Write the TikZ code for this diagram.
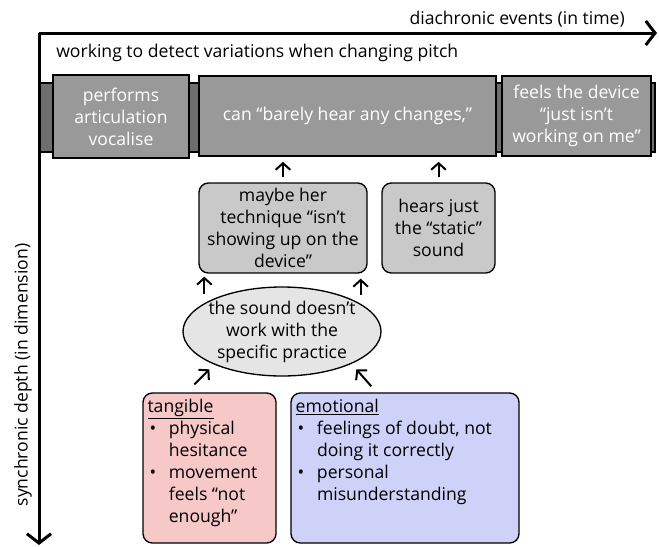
\documentclass[tikz,border=0pt]{standalone}
\usepackage{fontspec}
\setmainfont{Open Sans}
\usetikzlibrary{arrows.meta,shapes.geometric,calc}
\definecolor{bandgray}{HTML}{6E6E6E}
\definecolor{eventgray}{HTML}{999999}
\definecolor{causegray}{HTML}{C9C9C9}
\definecolor{soundgray}{HTML}{E5E5E5}
\definecolor{tangiblepink}{HTML}{F7C8C8}
\definecolor{emotionblue}{HTML}{CED1F8}
\newcommand{\bitem}[1]{\par\hangindent=16pt\hangafter=1\makebox[16pt][l]{\hspace{1.5pt}\textbullet}#1}
\tikzset{
	event/.style={draw=black,line width=1.2pt,fill=eventgray,text=white,align=center,inner sep=0pt},
	cause/.style={draw=black,line width=1pt,rounded corners=7pt,fill=causegray,align=center,inner sep=0pt},
	facet/.style={draw=black,line width=1pt,rounded corners=7pt,inner sep=0pt,minimum height=112.5pt},
	up/.style={line width=1.5pt,-{Straight Barb[length=5pt,width=11pt,line width=1.5pt]}},
	axis/.style={line width=2.25pt,-{Straight Barb[length=7pt,width=18pt,line width=2.25pt]}}
}
\begin{document}
\begin{tikzpicture}[x=0.75pt,y=0.75pt,yscale=-1,xscale=1,font=\fontsize{13.2}{16.5}\selectfont]
	\useasboundingbox (0,0) rectangle (659,546);
	% axes
	\coordinate (origin) at (39,33);
	\coordinate (timeend) at (657,33);
	\coordinate (depthend) at (39,545);
	\node [anchor=east,inner sep=0pt] (timelabel) at (625,19) {diachronic events (in time)};
	\node [rotate=90,inner sep=0pt] (depthlabel) at (23,375) {synchronic depth (in dimension)};
	\node [anchor=west,inner sep=0pt] (practice) at (56,53) {working to detect variations when changing pitch};
	% event band
	\draw [line width=1.2pt,fill=bandgray] (39,83) rectangle (655,152);
	\node [event,minimum width=102pt,minimum height=62.25pt] (perform) at (121,116.5) {performs\\articulation\\vocalise};
	\node [event,minimum width=222.75pt,minimum height=60pt] (cando) at (347.5,116) {can “barely hear any changes,”};
	\node [event,minimum width=111.75pt,minimum height=60pt] (feels) at (576.5,116) {feels the device\\“just isn’t\\working on me”};
	\draw [axis] (origin) -- (timeend);
	\draw [axis] (origin) -- (depthend);
	% causes
	\node [cause,minimum width=126pt,minimum height=67.5pt] (maybe) at (283,228) {maybe her\\technique “isn’t\\showing up on the\\device”};
	\node [cause,minimum width=84.75pt,minimum height=67.5pt] (hears) at (438.5,228) {hears just\\the “static”\\sound};
	\node [ellipse,draw=black,line width=1pt,fill=soundgray,align=center,inner xsep=-14pt,inner ysep=-8pt,minimum width=148.5pt,minimum height=66.75pt] (sound) at (282,331.5) {the sound doesn’t\\work with the\\specific practice};
	\node [facet,fill=tangiblepink,minimum width=99.75pt] (tangible) at (209.5,468) {\begin{minipage}[c][104pt][t]{93pt}\raggedright
		\underline{tangible}
		\bitem{physical\newline hesitance}
		\bitem{movement\newline feels “not\newline enough”}
	\end{minipage}};
	\node [facet,fill=emotionblue,minimum width=171pt] (emotional) at (405,468) {\begin{minipage}[c][104pt][t]{164pt}\raggedright
		\underline{emotional}
		\bitem{feelings of doubt, not\newline doing it correctly}
		\bitem{personal\newline misunderstanding}
	\end{minipage}};
	% arrows
	\draw [up,shorten <=3.75pt,shorten >=3.75pt] (maybe.north) -- (maybe.north |- cando.south);
	\draw [up,shorten <=3.75pt,shorten >=3.75pt] (hears.north) -- (hears.north |- cando.south);
	\draw [up] ($(maybe.south west)+(6,20)$) -- ($(maybe.south west)+(6,3)$);
	\draw [up] ($(maybe.south east)+(-7,21)$) -- ($(maybe.south east)+(-7,5)$);
	\draw [up] ($(tangible.north west)+(52,-8)$) -- ($(tangible.north west)+(67,-23)$);
	\draw [up] ($(emotional.north west)+(81,-6)$) -- ($(emotional.north west)+(66,-23)$);
\end{tikzpicture}
\end{document}
